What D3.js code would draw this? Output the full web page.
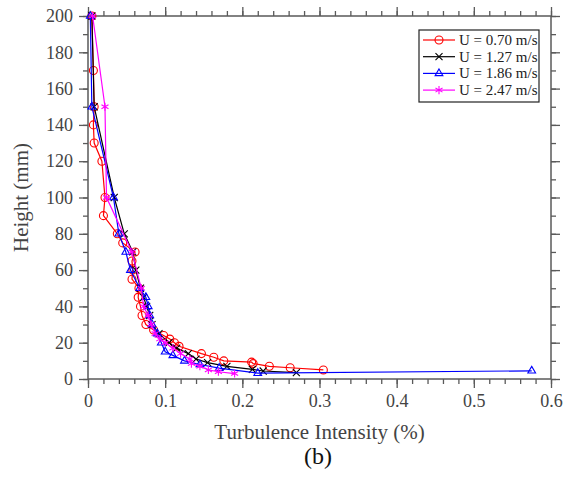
<!DOCTYPE html>
<html>
<head>
<meta charset="utf-8">
<script src="https://cdn.jsdelivr.net/npm/d3@7"></script>
<style>
    body { margin: 0; background: #fff; }
</style>
</head>
<body>
<div id="chart"></div>
<script>
// series values: [turbulence intensity, height mm]
const u070 = [
    [0.005, 200], [0.007, 170], [0.008, 150], [0.007, 140], [0.008, 130], [0.018, 120],
    [0.022, 100], [0.020, 90], [0.038, 80], [0.045, 75], [0.061, 70], [0.057, 65],
    [0.058, 60], [0.057, 55], [0.066, 50], [0.065, 45], [0.068, 40], [0.070, 35],
    [0.075, 30], [0.085, 27], [0.098, 24], [0.106, 22], [0.112, 20], [0.118, 18],
    [0.147, 14], [0.163, 12], [0.176, 10], [0.212, 9.3], [0.214, 8.5], [0.235, 7],
    [0.262, 6.2], [0.305, 5]
];
const u127 = [
    [0.005, 200], [0.008, 150], [0.034, 100], [0.047, 80], [0.058, 70], [0.062, 60],
    [0.068, 50], [0.072, 45], [0.076, 40], [0.080, 35], [0.083, 30], [0.092, 25],
    [0.105, 20], [0.115, 17], [0.130, 14], [0.140, 11], [0.155, 9], [0.180, 7],
    [0.213, 5.3], [0.227, 4.4], [0.270, 3.5]
];
const u186 = [
    [0.003, 200], [0.005, 150], [0.033, 100], [0.040, 80], [0.049, 70], [0.055, 60],
    [0.067, 50], [0.075, 45], [0.078, 40], [0.080, 35], [0.083, 30], [0.090, 25],
    [0.095, 20], [0.100, 15], [0.110, 13], [0.125, 10], [0.145, 8], [0.170, 6],
    [0.220, 3.2], [0.575, 4.5]
];
const u247 = [
    [0.006, 200], [0.022, 150], [0.024, 100], [0.057, 70], [0.069, 50], [0.072, 40],
    [0.078, 35], [0.082, 30], [0.087, 25], [0.093, 22], [0.100, 20], [0.110, 17],
    [0.120, 14], [0.132, 11], [0.134, 8.5], [0.145, 7], [0.156, 5], [0.169, 4],
    [0.190, 3]
];

const seriesNames = ['U = 0.70 m/s', 'U = 1.27 m/s', 'U = 1.86 m/s', 'U = 2.47 m/s'];
const seriesColors = ['#ff0000', '#000000', '#0000ff', '#ff00ff'];
const seriesMarkers = ['circle', 'times', 'triangle', 'asterisk'];

const xTicks = [0, 0.1, 0.2, 0.3, 0.4, 0.5, 0.6];
const yTicks = [0, 20, 40, 60, 80, 100, 120, 140, 160, 180, 200];

const allSeries = [u070, u127, u186, u247];

const serif = '"Liberation Serif", "Times New Roman", "DejaVu Serif", serif';

let margin = { top: 16, right: 18, bottom: 104, left: 88 };
let width = 569 - margin.left - margin.right;
let height = 483 - margin.top - margin.bottom;

let svg = d3.select('#chart').append('svg')
    .attr('width', 569)
    .attr('height', 483)
    .style('font-family', serif);

let g = svg.append('g')
    .attr('transform', `translate(${margin.left},${margin.top})`);

let x = d3.scaleLinear().domain([0, 0.6]).range([0, width]);
let y = d3.scaleLinear().domain([0, 200]).range([height, 0]);

const axisColor = '#5a5a5a';

// d3 axes put font-family="sans-serif" on their group, so override it there
function styleAxis(sel) {
    sel.attr('font-family', serif).attr('font-size', 18);
    sel.select('.domain').remove();
    sel.selectAll('line').attr('stroke', axisColor).attr('stroke-width', 1.3);
    sel.selectAll('text').attr('fill', '#444');
}

let xMinor = d3.range(0, 0.6001, 0.02);
let yMinor = d3.range(0, 201, 10);

g.append('g').attr('transform', `translate(0,${height})`)
    .call(d3.axisBottom(x).tickValues(xMinor).tickSize(5).tickFormat(''))
    .call(styleAxis);
g.append('g').attr('transform', `translate(0,${height})`)
    .call(d3.axisBottom(x).tickValues(xTicks).tickSize(9).tickPadding(6).tickFormat(d3.format('')))
    .call(styleAxis);
g.append('g')
    .call(d3.axisTop(x).tickValues(xMinor).tickSize(5).tickFormat(''))
    .call(styleAxis);
g.append('g')
    .call(d3.axisTop(x).tickValues(xTicks).tickSize(9).tickFormat(''))
    .call(styleAxis);

g.append('g')
    .call(d3.axisLeft(y).tickValues(yMinor).tickSize(5).tickFormat(''))
    .call(styleAxis);
g.append('g')
    .call(d3.axisLeft(y).tickValues(yTicks).tickSize(9).tickPadding(6))
    .call(styleAxis);
g.append('g').attr('transform', `translate(${width},0)`)
    .call(d3.axisRight(y).tickValues(yMinor).tickSize(5).tickFormat(''))
    .call(styleAxis);
g.append('g').attr('transform', `translate(${width},0)`)
    .call(d3.axisRight(y).tickValues(yTicks).tickSize(9).tickFormat(''))
    .call(styleAxis);

// frame
g.append('rect')
    .attr('width', width)
    .attr('height', height)
    .attr('fill', 'none')
    .attr('stroke', axisColor)
    .attr('stroke-width', 1.5);

function markerPath(type) {
    if (type === 'circle') return d3.symbol().type(d3.symbolCircle).size(50)();
    if (type === 'times') return d3.symbol().type(d3.symbolTimes).size(34)();
    if (type === 'triangle') return d3.symbol().type(d3.symbolTriangle).size(26)();
    return d3.symbol().type(d3.symbolAsterisk).size(46)();
}

let line = d3.line().x(d => x(d[0])).y(d => y(d[1]));

allSeries.forEach((data, i) => {
    let sg = g.append('g');
    sg.append('path')
        .datum(data)
        .attr('d', line)
        .attr('fill', 'none')
        .attr('stroke', seriesColors[i])
        .attr('stroke-width', 1.2);
    sg.selectAll('path.mk')
        .data(data)
        .enter().append('path')
        .attr('class', 'mk')
        .attr('d', markerPath(seriesMarkers[i]))
        .attr('transform', d => `translate(${x(d[0])},${y(d[1])})`)
        .attr('fill', 'none')
        .attr('stroke', seriesColors[i])
        .attr('stroke-width', 1.1);
});

// legend
let legend = g.append('g').attr('transform', `translate(${331},${14})`);
legend.append('rect')
    .attr('width', 120)
    .attr('height', 72)
    .attr('fill', '#fff')
    .attr('stroke', '#222')
    .attr('stroke-width', 1.2);
seriesNames.forEach((name, i) => {
    let ly = 10 + i * 16.7;
    legend.append('line')
        .attr('x1', 4).attr('x2', 36)
        .attr('y1', ly).attr('y2', ly)
        .attr('stroke', seriesColors[i])
        .attr('stroke-width', 1.2);
    legend.append('path')
        .attr('d', markerPath(seriesMarkers[i]))
        .attr('transform', `translate(20,${ly})`)
        .attr('fill', 'none')
        .attr('stroke', seriesColors[i])
        .attr('stroke-width', 1.1);
    legend.append('text')
        .attr('x', 40)
        .attr('y', ly + 5)
        .attr('font-size', 15)
        .attr('fill', '#222')
        .text(name);
});

// axis titles
svg.append('text')
    .attr('x', margin.left + width / 2)
    .attr('y', 439)
    .attr('text-anchor', 'middle')
    .attr('font-size', 21)
    .attr('fill', '#444')
    .text('Turbulence Intensity (%)');

svg.append('text')
    .attr('transform', `translate(28,${margin.top + height / 2}) rotate(-90)`)
    .attr('text-anchor', 'middle')
    .attr('font-size', 21)
    .attr('fill', '#444')
    .text('Height (mm)');

svg.append('text')
    .attr('x', 318)
    .attr('y', 464)
    .attr('text-anchor', 'middle')
    .attr('font-size', 24)
    .attr('fill', '#111')
    .text('(b)');
</script>
</body>
</html>
